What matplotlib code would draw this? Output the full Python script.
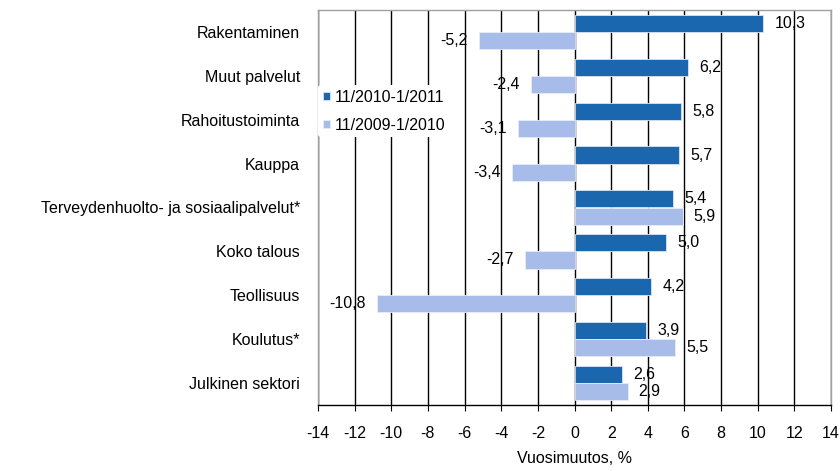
import matplotlib
matplotlib.use("Agg")
import matplotlib.pyplot as plt
import numpy as np

plt.rcParams['font.family'] = ['Liberation Sans', 'DejaVu Sans']

categories = ["Rakentaminen", "Muut palvelut", "Rahoitustoiminta", "Kauppa",
              "Terveydenhuolto- ja sosiaalipalvelut*", "Koko talous", "Teollisuus",
              "Koulutus*", "Julkinen sektori"]
series_2011 = [10.3, 6.2, 5.8, 5.7, 5.4, 5.0, 4.2, 3.9, 2.6]
series_2010 = [-5.2, -2.4, -3.1, -3.4, 5.9, -2.7, -10.8, 5.5, 2.9]
labels = ["11/2010-1/2011", "11/2009-1/2010"]
xticks = list(range(-14, 15, 2))

dark = "#1a67b0"
light = "#a7bce9"
FS = 11.5

fig = plt.figure(figsize=(8.4, 4.71), dpi=100)
ax = fig.add_axes([318/840, 1-405/471, (831-318)/840, (405-10)/471])

n = len(categories)
y = np.arange(n)
h = 0.39
ax.barh(y - h/2, series_2011, height=h, color=dark, edgecolor="#d8e4f5", linewidth=0.6, label=labels[0], zorder=3)
ax.barh(y + h/2, series_2010, height=h, color=light, edgecolor="#e6ecf8", linewidth=0.6, label=labels[1], zorder=3)

def fmt(v):
    return f"{v:.1f}".replace(".", ",")

def put(v, yy):
    if v >= 0:
        ax.annotate(fmt(v), (v, yy), xytext=(8, 0), textcoords="offset points",
                    ha="left", va="center", fontsize=FS, zorder=5)
    else:
        ax.annotate(fmt(v), (v, yy), xytext=(-8, 0), textcoords="offset points",
                    ha="right", va="center", fontsize=FS, zorder=5)

for i, v in enumerate(series_2011):
    put(v, y[i] - h/2)
for i, v in enumerate(series_2010):
    put(v, y[i] + h/2)

ax.set_xlim(-14, 14)
ax.set_ylim(n - 0.5, -0.5)
ax.set_xticks(xticks)
ax.set_xticklabels([str(t) for t in xticks], fontsize=FS)
ax.set_yticks(y)
ax.set_yticklabels(categories, fontsize=FS)
ax.tick_params(axis="y", length=0, pad=13)
ax.tick_params(axis="x", length=4, direction="out", pad=11, color="black")
ax.xaxis.grid(True, color="black", linewidth=1.0, zorder=1)
ax.set_axisbelow(True)
for s in ["left", "top", "right"]:
    ax.spines[s].set_color("#a0a0a0")
    ax.spines[s].set_linewidth(1.0)
ax.spines["bottom"].set_color("black")
ax.spines["bottom"].set_linewidth(1.0)
ax.set_xlabel("Vuosimuutos, %", fontsize=FS, labelpad=7)

leg = ax.legend(loc="upper left", bbox_to_anchor=(0.0, 0.81), frameon=True, fontsize=FS,
                handlelength=0.45, handleheight=0.45, handletextpad=0.3, borderpad=0.3,
                labelspacing=0.8, borderaxespad=0.0)
leg.get_frame().set_edgecolor("white")
leg.get_frame().set_facecolor("white")
leg.get_frame().set_alpha(1.0)
leg.get_frame().set_linewidth(0)
leg.set_zorder(6)

fig.savefig("out.png", dpi=100)
